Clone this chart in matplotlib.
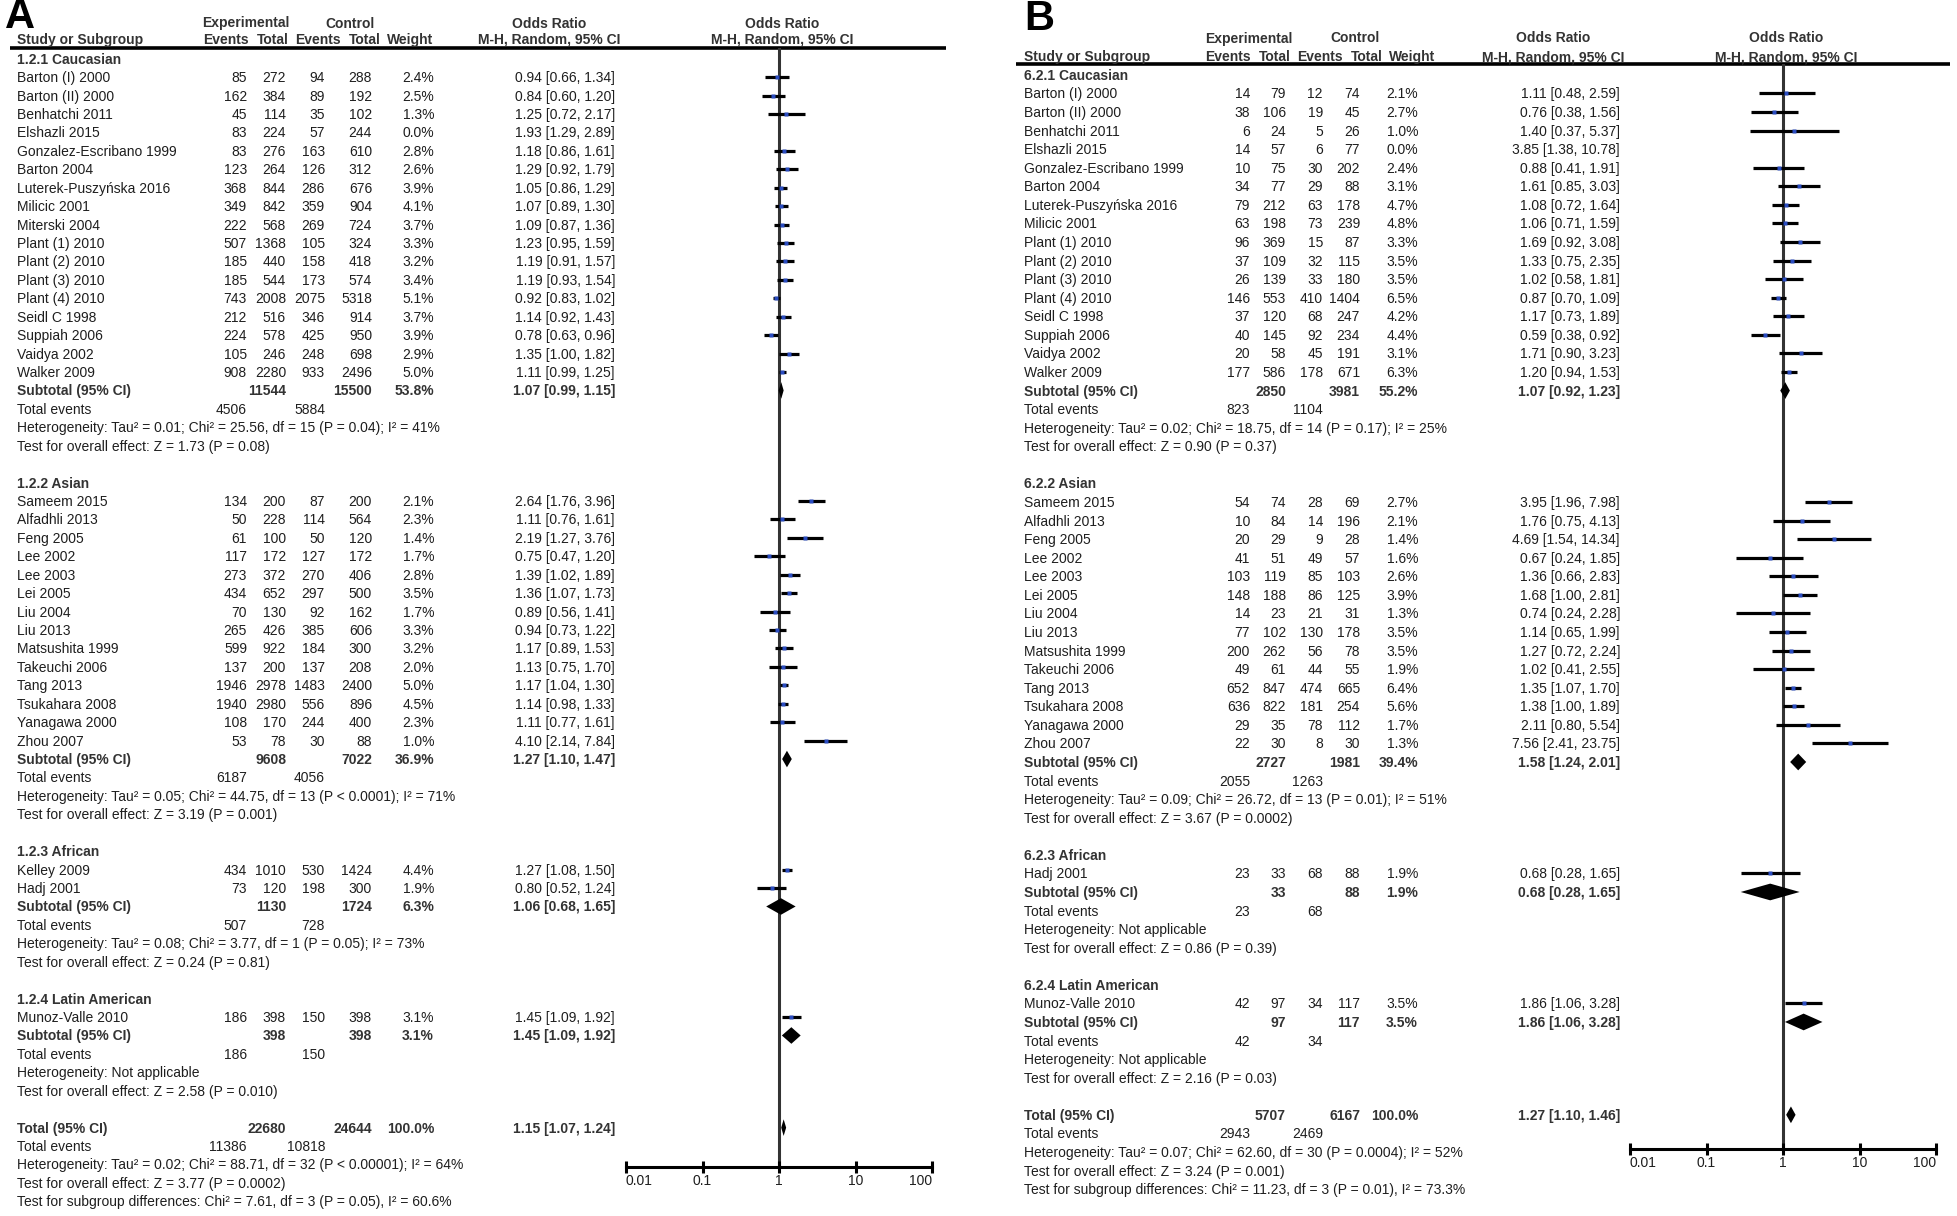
import matplotlib
matplotlib.use('Agg')
import matplotlib.pyplot as plt
from matplotlib import font_manager
from matplotlib.ticker import NullLocator

# ---------------- panel A data ----------------
A_groups = ['1.2.1 Caucasian', '1.2.2 Asian', '1.2.3 African', '1.2.4 Latin American']
A_sizes = [17, 14, 2, 1]
A_study = ['Barton (I) 2000', 'Barton (II) 2000', 'Benhatchi 2011', 'Elshazli 2015',
           'Gonzalez-Escribano 1999', 'Barton 2004', 'Luterek-Puszyńska 2016', 'Milicic 2001',
           'Miterski 2004', 'Plant (1) 2010', 'Plant (2) 2010', 'Plant (3) 2010', 'Plant (4) 2010',
           'Seidl C 1998', 'Suppiah 2006', 'Vaidya 2002', 'Walker 2009',
           'Sameem 2015', 'Alfadhli 2013', 'Feng 2005', 'Lee 2002', 'Lee 2003', 'Lei 2005',
           'Liu 2004', 'Liu 2013', 'Matsushita 1999', 'Takeuchi 2006', 'Tang 2013',
           'Tsukahara 2008', 'Yanagawa 2000', 'Zhou 2007',
           'Kelley 2009', 'Hadj 2001',
           'Munoz-Valle 2010']
A_ev_e = [85, 162, 45, 83, 83, 123, 368, 349, 222, 507, 185, 185, 743, 212, 224, 105, 908,
          134, 50, 61, 117, 273, 434, 70, 265, 599, 137, 1946, 1940, 108, 53,
          434, 73, 186]
A_n_e = [272, 384, 114, 224, 276, 264, 844, 842, 568, 1368, 440, 544, 2008, 516, 578, 246, 2280,
         200, 228, 100, 172, 372, 652, 130, 426, 922, 200, 2978, 2980, 170, 78,
         1010, 120, 398]
A_ev_c = [94, 89, 35, 57, 163, 126, 286, 359, 269, 105, 158, 173, 2075, 346, 425, 248, 933,
          87, 114, 50, 127, 270, 297, 92, 385, 184, 137, 1483, 556, 244, 30,
          530, 198, 150]
A_n_c = [288, 192, 102, 244, 610, 312, 676, 904, 724, 324, 418, 574, 5318, 914, 950, 698, 2496,
         200, 564, 120, 172, 406, 500, 162, 606, 300, 208, 2400, 896, 400, 88,
         1424, 300, 398]
A_wt = [2.4, 2.5, 1.3, 0.0, 2.8, 2.6, 3.9, 4.1, 3.7, 3.3, 3.2, 3.4, 5.1, 3.7, 3.9, 2.9, 5.0,
        2.1, 2.3, 1.4, 1.7, 2.8, 3.5, 1.7, 3.3, 3.2, 2.0, 5.0, 4.5, 2.3, 1.0,
        4.4, 1.9, 3.1]
A_or = [0.94, 0.84, 1.25, 1.93, 1.18, 1.29, 1.05, 1.07, 1.09, 1.23, 1.19, 1.19, 0.92, 1.14, 0.78, 1.35, 1.11,
        2.64, 1.11, 2.19, 0.75, 1.39, 1.36, 0.89, 0.94, 1.17, 1.13, 1.17, 1.14, 1.11, 4.10,
        1.27, 0.80, 1.45]
A_lo = [0.66, 0.60, 0.72, 1.29, 0.86, 0.92, 0.86, 0.89, 0.87, 0.95, 0.91, 0.93, 0.83, 0.92, 0.63, 1.00, 0.99,
        1.76, 0.76, 1.27, 0.47, 1.02, 1.07, 0.56, 0.73, 0.89, 0.75, 1.04, 0.98, 0.77, 2.14,
        1.08, 0.52, 1.09]
A_hi = [1.34, 1.20, 2.17, 2.89, 1.61, 1.79, 1.29, 1.30, 1.36, 1.59, 1.57, 1.54, 1.02, 1.43, 0.96, 1.82, 1.25,
        3.96, 1.61, 3.76, 1.20, 1.89, 1.73, 1.41, 1.22, 1.53, 1.70, 1.30, 1.33, 1.61, 7.84,
        1.50, 1.24, 1.92]
A_sub_n_e = [11544, 9608, 1130, 398]
A_sub_n_c = [15500, 7022, 1724, 398]
A_sub_wt = [53.8, 36.9, 6.3, 3.1]
A_sub_or = [1.07, 1.27, 1.06, 1.45]
A_sub_lo = [0.99, 1.10, 0.68, 1.09]
A_sub_hi = [1.15, 1.47, 1.65, 1.92]
A_sub_ev_e = [4506, 6187, 507, 186]
A_sub_ev_c = [5884, 4056, 728, 150]
A_sub_het = ['Heterogeneity: Tau² = 0.01; Chi² = 25.56, df = 15 (P = 0.04); I² = 41%',
             'Heterogeneity: Tau² = 0.05; Chi² = 44.75, df = 13 (P < 0.0001); I² = 71%',
             'Heterogeneity: Tau² = 0.08; Chi² = 3.77, df = 1 (P = 0.05); I² = 73%',
             'Heterogeneity: Not applicable']
A_sub_z = ['Test for overall effect: Z = 1.73 (P = 0.08)',
           'Test for overall effect: Z = 3.19 (P = 0.001)',
           'Test for overall effect: Z = 0.24 (P = 0.81)',
           'Test for overall effect: Z = 2.58 (P = 0.010)']
A_tot_n = [22680, 24644]
A_tot_ev = [11386, 10818]
A_tot_or = [1.15, 1.07, 1.24]
A_tot_txt = ['Heterogeneity: Tau² = 0.02; Chi² = 88.71, df = 32 (P < 0.00001); I² = 64%',
             'Test for overall effect: Z = 3.77 (P = 0.0002)',
             'Test for subgroup differences: Chi² = 7.61, df = 3 (P = 0.05), I² = 60.6%']

# ---------------- panel B data ----------------
B_groups = ['6.2.1 Caucasian', '6.2.2 Asian', '6.2.3 African', '6.2.4 Latin American']
B_sizes = [16, 14, 1, 1]
B_study = ['Barton (I) 2000', 'Barton (II) 2000', 'Benhatchi 2011', 'Elshazli 2015',
           'Gonzalez-Escribano 1999', 'Barton 2004', 'Luterek-Puszyńska 2016', 'Milicic 2001',
           'Plant (1) 2010', 'Plant (2) 2010', 'Plant (3) 2010', 'Plant (4) 2010',
           'Seidl C 1998', 'Suppiah 2006', 'Vaidya 2002', 'Walker 2009',
           'Sameem 2015', 'Alfadhli 2013', 'Feng 2005', 'Lee 2002', 'Lee 2003', 'Lei 2005',
           'Liu 2004', 'Liu 2013', 'Matsushita 1999', 'Takeuchi 2006', 'Tang 2013',
           'Tsukahara 2008', 'Yanagawa 2000', 'Zhou 2007',
           'Hadj 2001',
           'Munoz-Valle 2010']
B_ev_e = [14, 38, 6, 14, 10, 34, 79, 63, 96, 37, 26, 146, 37, 40, 20, 177,
          54, 10, 20, 41, 103, 148, 14, 77, 200, 49, 652, 636, 29, 22,
          23, 42]
B_n_e = [79, 106, 24, 57, 75, 77, 212, 198, 369, 109, 139, 553, 120, 145, 58, 586,
         74, 84, 29, 51, 119, 188, 23, 102, 262, 61, 847, 822, 35, 30,
         33, 97]
B_ev_c = [12, 19, 5, 6, 30, 29, 63, 73, 15, 32, 33, 410, 68, 92, 45, 178,
          28, 14, 9, 49, 85, 86, 21, 130, 56, 44, 474, 181, 78, 8,
          68, 34]
B_n_c = [74, 45, 26, 77, 202, 88, 178, 239, 87, 115, 180, 1404, 247, 234, 191, 671,
         69, 196, 28, 57, 103, 125, 31, 178, 78, 55, 665, 254, 112, 30,
         88, 117]
B_wt = [2.1, 2.7, 1.0, 0.0, 2.4, 3.1, 4.7, 4.8, 3.3, 3.5, 3.5, 6.5, 4.2, 4.4, 3.1, 6.3,
        2.7, 2.1, 1.4, 1.6, 2.6, 3.9, 1.3, 3.5, 3.5, 1.9, 6.4, 5.6, 1.7, 1.3,
        1.9, 3.5]
B_or = [1.11, 0.76, 1.40, 3.85, 0.88, 1.61, 1.08, 1.06, 1.69, 1.33, 1.02, 0.87, 1.17, 0.59, 1.71, 1.20,
        3.95, 1.76, 4.69, 0.67, 1.36, 1.68, 0.74, 1.14, 1.27, 1.02, 1.35, 1.38, 2.11, 7.56,
        0.68, 1.86]
B_lo = [0.48, 0.38, 0.37, 1.38, 0.41, 0.85, 0.72, 0.71, 0.92, 0.75, 0.58, 0.70, 0.73, 0.38, 0.90, 0.94,
        1.96, 0.75, 1.54, 0.24, 0.66, 1.00, 0.24, 0.65, 0.72, 0.41, 1.07, 1.00, 0.80, 2.41,
        0.28, 1.06]
B_hi = [2.59, 1.56, 5.37, 10.78, 1.91, 3.03, 1.64, 1.59, 3.08, 2.35, 1.81, 1.09, 1.89, 0.92, 3.23, 1.53,
        7.98, 4.13, 14.34, 1.85, 2.83, 2.81, 2.28, 1.99, 2.24, 2.55, 1.70, 1.89, 5.54, 23.75,
        1.65, 3.28]
B_sub_n_e = [2850, 2727, 33, 97]
B_sub_n_c = [3981, 1981, 88, 117]
B_sub_wt = [55.2, 39.4, 1.9, 3.5]
B_sub_or = [1.07, 1.58, 0.68, 1.86]
B_sub_lo = [0.92, 1.24, 0.28, 1.06]
B_sub_hi = [1.23, 2.01, 1.65, 3.28]
B_sub_ev_e = [823, 2055, 23, 42]
B_sub_ev_c = [1104, 1263, 68, 34]
B_sub_het = ['Heterogeneity: Tau² = 0.02; Chi² = 18.75, df = 14 (P = 0.17); I² = 25%',
             'Heterogeneity: Tau² = 0.09; Chi² = 26.72, df = 13 (P = 0.01); I² = 51%',
             'Heterogeneity: Not applicable',
             'Heterogeneity: Not applicable']
B_sub_z = ['Test for overall effect: Z = 0.90 (P = 0.37)',
           'Test for overall effect: Z = 3.67 (P = 0.0002)',
           'Test for overall effect: Z = 0.86 (P = 0.39)',
           'Test for overall effect: Z = 2.16 (P = 0.03)']
B_tot_n = [5707, 6167]
B_tot_ev = [2943, 2469]
B_tot_or = [1.27, 1.10, 1.46]
B_tot_txt = ['Heterogeneity: Tau² = 0.07; Chi² = 62.60, df = 30 (P = 0.0004); I² = 52%',
             'Test for overall effect: Z = 3.24 (P = 0.001)',
             'Test for subgroup differences: Chi² = 11.23, df = 3 (P = 0.01), I² = 73.3%']

# ---------------- figure setup ----------------
W, H, DPI = 1957, 1216, 100
names = {f.name for f in font_manager.fontManager.ttflist}
if 'Liberation Sans Narrow' in names:
    FONT, FS = 'Liberation Sans Narrow', 12.3
else:
    FONT, FS = 'Liberation Sans', 10.0
plt.rcParams['font.family'] = [FONT, 'DejaVu Sans']
TXT = '#1e1e1e'
HDR = '#333333'
FPX = FS * DPI / 72.0

fig = plt.figure(figsize=(W / DPI, H / DPI), dpi=DPI)
bg = fig.add_axes([0, 0, 1, 1])
bg.set_xlim(0, W)
bg.set_ylim(H, 0)
bg.axis('off')


def put(x, y, s, ha='left', bold=False, color=TXT):
    bg.text(x, y + 0.36 * FPX, s, ha=ha, va='baseline', fontsize=FS,
            fontweight='bold' if bold else 'normal', color=color)


def fmt_or(o, lo, hi):
    return f'{o:.2f} [{lo:.2f}, {hi:.2f}]'


def draw_panel(lay, label, groups, sizes, study, ev_e, n_e, ev_c, n_c, wt, orr, lo, hi,
               sub_n_e, sub_n_c, sub_wt, sub_or, sub_lo, sub_hi, sub_ev_e, sub_ev_c,
               sub_het, sub_z, tot_n, tot_ev, tot_or, tot_txt):
    xs = lay['x_study']
    c_eve, c_ne, c_evc, c_nc, c_wt, c_or = lay['cols']
    row0, step = lay['row0'], lay['step']

    def ry(r):
        return row0 + r * step

    # panel letter and header
    bg.text(lay['label_x'], lay['label_y'], label, fontsize=30, fontweight='bold',
            va='top', ha='left', color='black', family='Liberation Sans')
    h1, h2 = lay['h1'], lay['h2']
    put(lay['exp_c'], h1, 'Experimental', ha='center', bold=True, color=HDR)
    put(lay['ctl_c'], h1, 'Control', ha='center', bold=True, color=HDR)
    put(lay['or_c'], h1, 'Odds Ratio', ha='center', bold=True, color=HDR)
    put(lay['x_one'] + 3, h1, 'Odds Ratio', ha='center', bold=True, color=HDR)
    put(xs, h2, 'Study or Subgroup', bold=True, color=HDR)
    for hx, ht in zip(lay['hdr_x'], ['Events', 'Total', 'Events', 'Total', 'Weight']):
        put(hx, h2, ht, ha='right', bold=True, color=HDR)
    put(lay['or_c'], h2, 'M-H, Random, 95% CI', ha='center', bold=True, color=HDR)
    put(lay['x_one'] + 3, h2, 'M-H, Random, 95% CI', ha='center', bold=True, color=HDR)
    bg.plot(lay['line_x'], [lay['line_y'], lay['line_y']], color='black', lw=2.6,
            solid_capstyle='butt')

    # forest axes on a log scale
    x0, x1 = lay['ax_x']
    yt, yb = lay['line_y'], lay['axis_y']
    fa = fig.add_axes([x0 / W, 1 - yb / H, (x1 - x0) / W, (yb - yt) / H])
    fa.patch.set_alpha(0)
    fa.set_xscale('log')
    fa.set_xlim(0.01, 100)
    fa.set_ylim((yb - row0) / step, (yt - row0) / step)
    for s in ['top', 'left', 'right']:
        fa.spines[s].set_visible(False)
    fa.spines['bottom'].set_linewidth(2.2)
    fa.set_yticks([])
    fa.set_xticks([0.01, 0.1, 1, 10, 100])
    fa.set_xticklabels(['0.01', '0.1', '1', '10', '100'])
    fa.xaxis.set_minor_locator(NullLocator())
    fa.tick_params(axis='x', direction='inout', length=8, width=2.2, labelsize=FS,
                   pad=1, labelcolor=TXT)
    tl = fa.get_xticklabels()
    tl[0].set_ha('left')
    tl[-1].set_ha('right')
    fa.axvline(1, color='#333333', lw=2.2, zorder=1)

    r = 0
    k = 0
    for g, name in enumerate(groups):
        put(xs, ry(r), name, bold=True, color=HDR)
        r += 1
        for _ in range(sizes[g]):
            y = ry(r)
            put(xs, y, study[k])
            put(c_eve, y, str(ev_e[k]), ha='right')
            put(c_ne, y, str(n_e[k]), ha='right')
            put(c_evc, y, str(ev_c[k]), ha='right')
            put(c_nc, y, str(n_c[k]), ha='right')
            put(c_wt, y, f'{wt[k]:.1f}%', ha='right')
            put(c_or, y, fmt_or(orr[k], lo[k], hi[k]), ha='right')
            if wt[k] > 0:
                fa.plot([lo[k], hi[k]], [r, r], color='black', lw=2.3,
                        solid_capstyle='butt', zorder=2)
                fa.plot([orr[k]], [r], marker='s', ms=2.6, color='#2a4cc0',
                        mec='none', zorder=3)
            k += 1
            r += 1
        y = ry(r)
        put(xs, y, 'Subtotal (95% CI)', bold=True, color=HDR)
        put(c_ne, y, str(sub_n_e[g]), ha='right', bold=True, color=HDR)
        put(c_nc, y, str(sub_n_c[g]), ha='right', bold=True, color=HDR)
        put(c_wt, y, f'{sub_wt[g]:.1f}%', ha='right', bold=True, color=HDR)
        put(c_or, y, fmt_or(sub_or[g], sub_lo[g], sub_hi[g]), ha='right', bold=True, color=HDR)
        fa.fill([sub_lo[g], sub_or[g], sub_hi[g], sub_or[g]],
                [r, r - 0.45, r, r + 0.45], color='black', lw=0, zorder=3)
        r += 1
        y = ry(r)
        put(xs, y, 'Total events')
        put(c_eve, y, str(sub_ev_e[g]), ha='right')
        put(c_evc, y, str(sub_ev_c[g]), ha='right')
        r += 1
        put(xs, ry(r), sub_het[g])
        r += 1
        put(xs, ry(r), sub_z[g])
        r += 2

    y = ry(r)
    put(xs, y, 'Total (95% CI)', bold=True, color=HDR)
    put(c_ne, y, str(tot_n[0]), ha='right', bold=True, color=HDR)
    put(c_nc, y, str(tot_n[1]), ha='right', bold=True, color=HDR)
    put(c_wt, y, '100.0%', ha='right', bold=True, color=HDR)
    put(c_or, y, fmt_or(*tot_or), ha='right', bold=True, color=HDR)
    fa.fill([tot_or[1], tot_or[0], tot_or[2], tot_or[0]],
            [r, r - 0.45, r, r + 0.45], color='black', lw=0, zorder=3)
    r += 1
    y = ry(r)
    put(xs, y, 'Total events')
    put(c_eve, y, str(tot_ev[0]), ha='right')
    put(c_evc, y, str(tot_ev[1]), ha='right')
    for t in tot_txt:
        r += 1
        put(xs, ry(r), t)


lay_A = dict(x_study=17, cols=[247, 286, 325, 372, 434, 615], row0=58.7, step=18.43,
             hdr_x=[249, 289, 341, 381, 433],
             label_x=5, label_y=-3, h1=22.5, h2=39, line_y=47.5, line_x=[10, 946],
             ax_x=[626, 932], axis_y=1167, x_one=779,
             exp_c=246, ctl_c=350, or_c=549)
lay_B = dict(x_study=1024, cols=[1250, 1286, 1323, 1360, 1418, 1620], row0=74.9, step=18.57,
             hdr_x=[1251, 1291, 1343, 1383, 1435],
             label_x=1024, label_y=-1, h1=37.5, h2=56, line_y=64, line_x=[1016, 1950],
             ax_x=[1630, 1936], axis_y=1149, x_one=1783,
             exp_c=1249, ctl_c=1355, or_c=1553)

draw_panel(lay_A, 'A', A_groups, A_sizes, A_study, A_ev_e, A_n_e, A_ev_c, A_n_c, A_wt,
           A_or, A_lo, A_hi, A_sub_n_e, A_sub_n_c, A_sub_wt, A_sub_or, A_sub_lo, A_sub_hi,
           A_sub_ev_e, A_sub_ev_c, A_sub_het, A_sub_z, A_tot_n, A_tot_ev, A_tot_or, A_tot_txt)
draw_panel(lay_B, 'B', B_groups, B_sizes, B_study, B_ev_e, B_n_e, B_ev_c, B_n_c, B_wt,
           B_or, B_lo, B_hi, B_sub_n_e, B_sub_n_c, B_sub_wt, B_sub_or, B_sub_lo, B_sub_hi,
           B_sub_ev_e, B_sub_ev_c, B_sub_het, B_sub_z, B_tot_n, B_tot_ev, B_tot_or, B_tot_txt)

fig.savefig('out.png', dpi=DPI)
